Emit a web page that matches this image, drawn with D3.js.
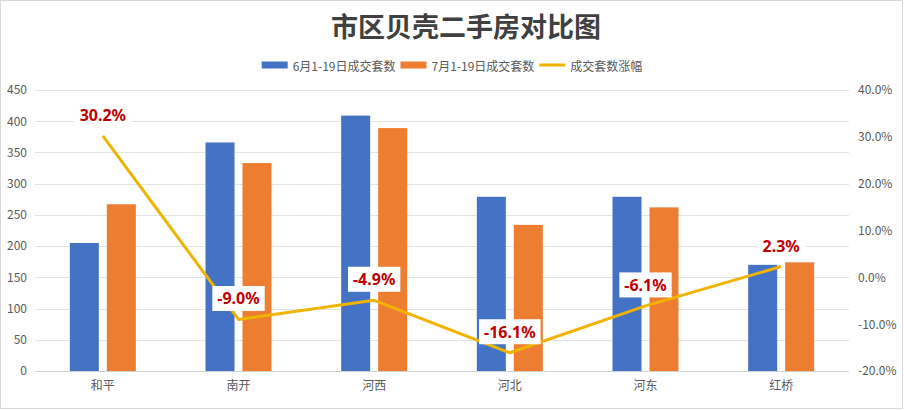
<!DOCTYPE html>
<html>
<head>
<meta charset="utf-8">
<script src="https://cdn.jsdelivr.net/npm/d3@7/dist/d3.min.js"></script>
<style>
html,body{margin:0;padding:0;background:#fff;}
svg{display:block;font-family:"Noto Sans CJK SC","Noto Sans",sans-serif;}
</style>
</head>
<body>
<svg id="chart" width="904" height="410"></svg>
<script>
const categories = ["和平","南开","河西","河北","河东","红桥"];
const seriesNames = ["6月1-19日成交套数","7月1-19日成交套数","成交套数涨幅"];
const june = [205, 366, 409, 279, 279, 170];
const july = [267, 333, 389, 234, 262, 174];
const growth = [30.2, -9.0, -4.9, -16.1, -6.1, 2.3];
const leftTicks = [0,50,100,150,200,250,300,350,400,450];
const rightTicks = [-20,-10,0,10,20,30,40];
const title = "市区贝壳二手房对比图";

const W = 904, H = 410;
const plot = {left: 35, right: 849, top: 90, bottom: 371};
const colors = ["#4472C4", "#ED7D31", "#F0B400"];

const svg = d3.select("#chart");
svg.append("rect").attr("x",0.5).attr("y",0.5).attr("width",W-2).attr("height",H-2)
  .attr("fill","#fff").attr("stroke","#d9d9d9");

const x0 = d3.scaleBand().domain(categories).range([plot.left, plot.right]).paddingInner(0).paddingOuter(0);
const yL = d3.scaleLinear().domain([0,450]).range([plot.bottom, plot.top]);
const yR = d3.scaleLinear().domain([-20,40]).range([plot.bottom, plot.top]);

// gridlines
svg.append("g").selectAll("line").data(leftTicks).join("line")
  .attr("x1", plot.left).attr("x2", plot.right)
  .attr("y1", d => Math.round(yL(d))+0.5).attr("y2", d => Math.round(yL(d))+0.5)
  .attr("stroke", d => d===0 ? "#d0d0d0" : "#e3e3e3").attr("stroke-width",1);

// left axis
const axL = svg.append("g").attr("transform",`translate(${plot.left},0)`)
  .call(d3.axisLeft(yL).tickValues(leftTicks).tickSize(0).tickPadding(8));
axL.select(".domain").remove();
axL.selectAll("text").attr("font-size",12).attr("fill","#595959")
  .attr("font-family","'Noto Sans CJK SC',sans-serif");

// right axis
const axR = svg.append("g").attr("transform",`translate(${plot.right},0)`)
  .call(d3.axisRight(yR).tickValues(rightTicks).tickSize(0).tickPadding(9).tickFormat(d => d.toFixed(1)+"%"));
axR.select(".domain").remove();
axR.selectAll("text").attr("font-size",12).attr("fill","#595959")
  .attr("font-family","'Noto Sans CJK SC',sans-serif");

// bottom axis
const axB = svg.append("g").attr("transform",`translate(0,${plot.bottom})`)
  .call(d3.axisBottom(x0).tickSize(0).tickPadding(10));
axB.select(".domain").remove();
axB.selectAll("text").attr("font-size",12).attr("fill","#595959")
  .attr("font-family","'Noto Sans CJK SC',sans-serif");

// bars
const groupW = 66;
const x1 = d3.scaleBand().domain([0,1]).range([0, groupW]).paddingInner(0.216).paddingOuter(0);
const barData = [june, july];
const gBars = svg.append("g");
categories.forEach((c, i) => {
  const cx = x0(c) + x0.bandwidth()/2 - groupW/2;
  barData.forEach((s, k) => {
    gBars.append("rect")
      .attr("x", cx + x1(k))
      .attr("y", yL(s[i]))
      .attr("width", x1.bandwidth())
      .attr("height", yL(0) - yL(s[i]))
      .attr("fill", colors[k]);
  });
});

// line
const pts = categories.map((c,i) => [x0(c)+x0.bandwidth()/2, yR(growth[i])]);
svg.append("path").datum(pts)
  .attr("d", d3.line())
  .attr("fill","none").attr("stroke",colors[2]).attr("stroke-width",3)
  .attr("stroke-linejoin","round").attr("stroke-linecap","butt");

// labels
const gLab = svg.append("g");
pts.forEach((p, i) => {
  const g = gLab.append("g");
  const txt = g.append("text")
    .attr("x", p[0]).attr("y", p[1]-21)
    .attr("text-anchor","middle").attr("dominant-baseline","central")
    .attr("font-size",16).attr("font-weight","bold").attr("fill","#C00000")
    .attr("font-family","'Noto Sans','Noto Sans CJK SC',sans-serif")
    .text(growth[i].toFixed(1)+"%");
  const w = txt.node().getComputedTextLength();
  g.insert("rect","text")
    .attr("x", p[0]-w/2-5).attr("y", p[1]-21-12.5)
    .attr("width", w+10).attr("height", 25).attr("fill","#fff");
});

// title
svg.append("text").attr("x", 466).attr("y", 37)
  .attr("text-anchor","middle").attr("font-size",27).attr("font-weight","bold")
  .attr("fill","#404040").text(title);

// legend
const leg = svg.append("g");
let items = [];
let cursor = 0;
seriesNames.forEach((n, k) => {
  const g = leg.append("g");
  if (k < 2) {
    g.append("rect").attr("x",0).attr("y",-3.5).attr("width",26).attr("height",7).attr("fill",colors[k]);
  } else {
    g.append("line").attr("x1",0).attr("x2",26).attr("y1",0).attr("y2",0)
      .attr("stroke",colors[k]).attr("stroke-width",3);
  }
  const t = g.append("text").attr("x",31).attr("y",0).attr("dominant-baseline","central")
    .attr("font-size",12).attr("fill","#595959").text(n);
  const w = 31 + t.node().getComputedTextLength();
  g.attr("transform", `translate(${cursor},65)`);
  cursor += w + 5;
});
const total = cursor - 5;
leg.attr("transform", `translate(${452 - total/2},0)`);
</script>
</body>
</html>
